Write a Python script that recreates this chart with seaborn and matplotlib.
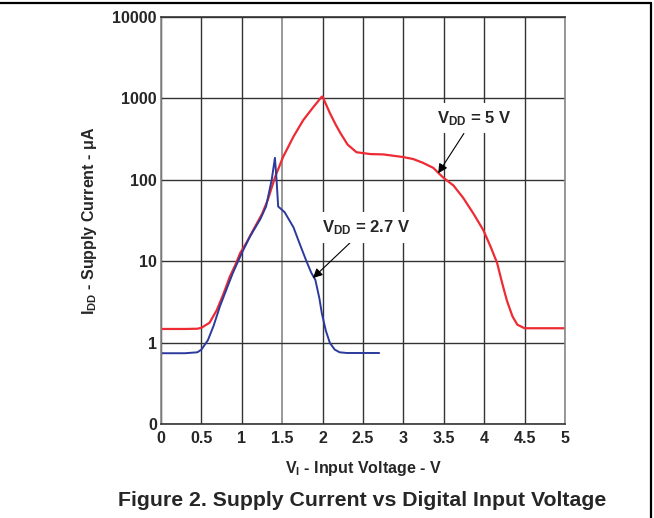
import numpy as np
import pandas as pd
import matplotlib
matplotlib.use("Agg")
import matplotlib.pyplot as plt
from matplotlib.lines import Line2D
from matplotlib.ticker import NullLocator, FixedLocator
import seaborn as sns

# VDD = 5 V curve
red_v = [0, 0.3, 0.45, 0.5, 0.6, 0.69, 0.77, 0.85, 0.92, 0.98, 1.06, 1.14, 1.25, 1.32,
         1.41, 1.51, 1.64, 1.76, 1.88, 1.99, 2.0, 2.09, 2.16, 2.22, 2.31, 2.42, 2.59,
         2.75, 3.0, 3.12, 3.24, 3.37, 3.49, 3.62, 3.74, 3.87, 3.99, 4.08, 4.16, 4.22,
         4.28, 4.35, 4.41, 4.5, 5.0]
red_i = [1.47, 1.47, 1.48, 1.52, 1.75, 2.5, 3.9, 6.4, 9.0, 12.6, 17, 24, 38, 56,
         107, 190, 340, 540, 770, 1050, 1050, 660, 480, 375, 270, 218, 207,
         205, 190, 180, 162, 140, 107, 85, 60, 38, 24, 15, 9.5, 5.5,
         3.3, 2.1, 1.66, 1.5, 1.5]

# VDD = 2.7 V curve
blue_v = [0, 0.3, 0.45, 0.5, 0.58, 0.65, 0.73, 0.81, 0.89, 1.0, 1.1, 1.23, 1.3, 1.37,
          1.41, 1.43, 1.45, 1.53, 1.64, 1.72, 1.80, 1.86, 1.91, 1.96, 1.99, 2.04,
          2.09, 2.15, 2.21, 2.3, 2.7]
blue_i = [0.74, 0.74, 0.76, 0.82, 1.07, 1.6, 2.8, 4.5, 7.2, 12.6, 20, 33, 47, 100,
          186, 100, 47, 40, 26, 16, 10, 7.2, 5.9, 3.5, 2.3, 1.4,
          0.99, 0.82, 0.76, 0.745, 0.745]

x_ticks = [0, 0.5, 1, 1.5, 2, 2.5, 3, 3.5, 4, 4.5, 5]
x_labels = ["0", "0.5", "1", "1.5", "2", "2.5", "3", "3.5", "4", "4.5", "5"]
y_ticks = [0.1, 1, 10, 100, 1000, 10000]
y_labels = ["0", "1", "10", "100", "1000", "10000"]

sns.set_style("white")
plt.rcParams["font.family"] = ["Liberation Sans", "DejaVu Sans"]
plt.rcParams["font.weight"] = "bold"
plt.rcParams["mathtext.fontset"] = "custom"
plt.rcParams["mathtext.rm"] = "Liberation Sans:bold"
plt.rcParams["mathtext.bf"] = "Liberation Sans:bold"
plt.rcParams["mathtext.it"] = "Liberation Sans:bold"
plt.rcParams["mathtext.default"] = "bf"

red = pd.DataFrame({"v": red_v, "i": red_i})
blue = pd.DataFrame({"v": blue_v, "i": blue_i})

fig = plt.figure(figsize=(6.54, 5.18), dpi=100)
ax = fig.add_axes([0.2462, 0.1815, 0.6177, 0.7857])

ax.set_yscale("log")
sns.lineplot(data=red, x="v", y="i", ax=ax, color="#ee2a33", lw=1.6,
             sort=False, estimator=None)
sns.lineplot(data=blue, x="v", y="i", ax=ax, color="#2b3a9c", lw=1.4,
             sort=False, estimator=None)

ax.set_xlim(0, 5)
ax.set_ylim(0.1, 10000)
ax.xaxis.set_major_locator(FixedLocator(x_ticks))
ax.set_xticklabels(x_labels)
ax.yaxis.set_major_locator(FixedLocator(y_ticks))
ax.yaxis.set_minor_locator(NullLocator())
ax.set_yticklabels(y_labels)
ax.tick_params(axis="both", length=0, labelsize=11.5)
ax.tick_params(axis="x", pad=5)
ax.tick_params(axis="y", pad=3)

ax.grid(True, color="#333333", lw=1.0)
ax.get_xgridlines()[3].set_color("#999999")
ax.get_xgridlines()[3].set_linewidth(1.4)
ax.set_axisbelow(True)
for side in ["left", "right"]:
    ax.spines[side].set_color("#888888")
    ax.spines[side].set_linewidth(1.2)
for side in ["top", "bottom"]:
    ax.spines[side].set_color("#333333")
    ax.spines[side].set_linewidth(1.2)

ax.set_xlabel(r"$V_I$ - Input Voltage - V", fontsize=11.5, fontweight="bold")
ax.set_ylabel(r"$I_{DD}$ - Supply Current - μA", fontsize=11.5, fontweight="bold")
ax.xaxis.set_label_coords(0.5, -0.087)
ax.yaxis.set_label_coords(-0.153, 0.5)

box = dict(boxstyle="square,pad=0.35", fc="white", ec="none")
arrow = dict(arrowstyle="-|>", color="black", lw=0.8, mutation_scale=14,
             shrinkA=0, shrinkB=0)
ax.annotate(r"$V_{DD}$ = 5 V", xy=(3.43, 120), xytext=(3.87, 570),
            fontsize=12, fontweight="bold", ha="center", va="center",
            bbox=box, arrowprops=arrow)
ax.annotate(r"$V_{DD}$ = 2.7 V", xy=(1.88, 6.2), xytext=(2.54, 26),
            fontsize=12, fontweight="bold", ha="center", va="center",
            bbox=box, arrowprops=arrow)

fig.text(0.553, 0.034, "Figure 2. Supply Current vs Digital Input Voltage",
         fontsize=15.3, fontweight="bold", ha="center", va="center")

# page frame (top and right rules)
fig.add_artist(Line2D([0, 0.9955], [0.994, 0.994], transform=fig.transFigure,
                      color="black", lw=1.6))
fig.add_artist(Line2D([0.9955, 0.9955], [0, 0.994], transform=fig.transFigure,
                      color="black", lw=1.6))

fig.savefig("out.png", dpi=100)
